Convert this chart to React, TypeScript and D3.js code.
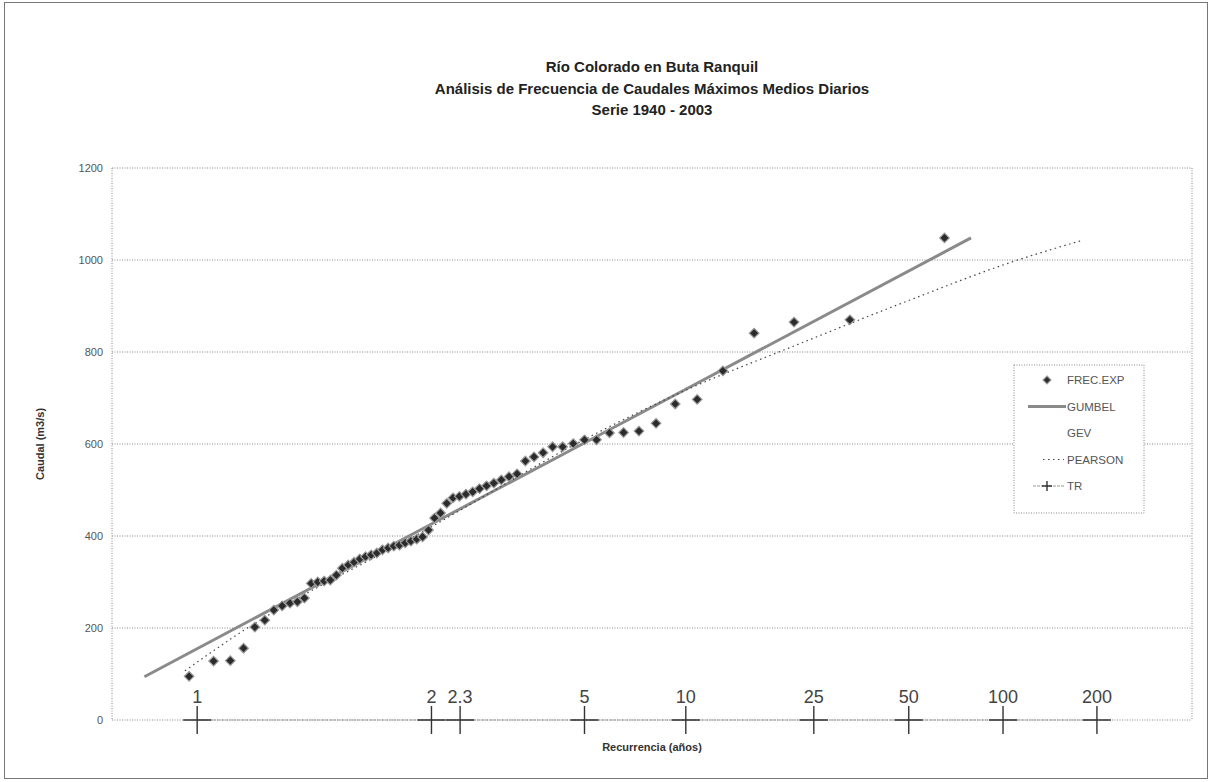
import * as d3 from 'd3'

// Frequency analysis chart: annual max daily flows vs Gumbel reduced variate

const titleLines = [
  'Río Colorado en Buta Ranquil',
  'Análisis de Frecuencia de Caudales Máximos Medios Diarios',
  'Serie 1940 - 2003',
]

const observed = [
  95, 128, 129, 156, 202, 217, 239, 248, 254, 257, 265,
  297, 300, 302, 304, 315, 330, 337, 343, 350, 355, 359, 363, 370, 374,
  378, 380, 385, 389, 393, 398, 413, 439, 450, 471, 483,
  486, 491, 496, 503, 509, 515, 522, 529, 535, 563, 572, 581, 594, 594,
  601, 609, 609, 624, 625, 628, 645, 687, 697, 759, 841, 865, 870, 1048,
]

// fitted curves: return period (years) -> flow
const gumbelT = [1.003, 2, 10, 79]
const gumbelQ = [94, 426, 719, 1048]

const pearsonT = [1.0137, 1.052, 2, 5, 10, 22, 50, 107, 180]
const pearsonQ = [107, 180, 420, 610, 717, 815, 912, 996, 1043]

// return period markers along the axis
const trT = [1.02, 2, 2.33, 5, 10, 25, 50, 100, 200]
const trLabels = ['1', '2', '2.3', '5', '10', '25', '50', '100', '200']

const legendItems = ['FREC.EXP', 'GUMBEL', 'GEV', 'PEARSON', 'TR']

const W = 1212
const H = 782
const FONT = '"Liberation Sans", Arial, sans-serif'

// Gumbel reduced variate
const rvFromP = (p: number) => -Math.log(-Math.log(p))
const rvFromT = (t: number) => rvFromP(1 - 1 / t)

function Diamond({ cx, cy, r = 4.8 }: { cx: number; cy: number; r?: number }) {
  return (
    <path
      d={`M${cx},${cy - r}L${cx + r},${cy}L${cx},${cy + r}L${cx - r},${cy}Z`}
      fill="#2b2b2b"
      stroke="#9a9a9a"
      strokeWidth={1.2}
    />
  )
}

function Plus({ cx, cy, s }: { cx: number; cy: number; s: number }) {
  return (
    <path d={`M${cx - s},${cy}H${cx + s}M${cx},${cy - s}V${cy + s}`} stroke="#333" strokeWidth={1.4} fill="none" />
  )
}

export default function App() {
  const x = d3.scaleLinear().domain([-2, 6]).range([112, 1192])
  const y = d3.scaleLinear().domain([0, 1200]).range([720, 168])
  const n = observed.length

  const curve = d3
    .line<[number, number]>()
    .x((d) => x(rvFromT(d[0])))
    .y((d) => y(d[1]))
    .curve(d3.curveMonotoneX)

  const gumbelPath = curve(gumbelT.map((t, i) => [t, gumbelQ[i]] as [number, number])) ?? ''
  const pearsonPath = curve(pearsonT.map((t, i) => [t, pearsonQ[i]] as [number, number])) ?? ''

  const [x0, x1] = x.range()
  const [yb, yt] = y.range()
  const cxPlot = (x0 + x1) / 2

  const trX = trT.map((t) => x(rvFromT(t)))

  // legend geometry
  const lgX = 1014
  const lgY = 365
  const lgW = 130
  const lgH = 148
  const rowY = (i: number) => lgY + 15 + i * 26.5

  return (
    <svg width={W} height={H} style={{ position: 'absolute', left: 0, top: 0, background: '#fff' }} fontFamily={FONT}>
      <rect x={4.5} y={2.5} width={1203} height={776} fill="#fff" stroke="#777" strokeWidth={1} />

      {titleLines.map((t, i) => (
        <text key={t} x={cxPlot} y={72 + i * 21.5} textAnchor="middle" fontSize={15} fontWeight="bold" fill="#222">
          {t}
        </text>
      ))}

      {/* gridlines */}
      {y.ticks(6).map((v) => (
        <g key={v}>
          <line x1={x0} x2={x1} y1={y(v)} y2={y(v)} stroke="#888" strokeWidth={1} strokeDasharray="1,1.5" />
          <text x={103} y={y(v) + 4} textAnchor="end" fontSize={11} fill="#555">
            {v}
          </text>
        </g>
      ))}
      <line x1={x0} x2={x0} y1={yt} y2={yb} stroke="#888" strokeDasharray="1,1.5" />
      <line x1={x1} x2={x1} y1={yt} y2={yb} stroke="#888" strokeDasharray="1,1.5" />

      <text
        transform={`translate(44,${(yt + yb) / 2}) rotate(-90)`}
        textAnchor="middle"
        fontSize={11}
        fontWeight="bold"
        fill="#333"
      >
        Caudal (m3/s)
      </text>
      <text x={cxPlot} y={751} textAnchor="middle" fontSize={11} fontWeight="bold" fill="#333">
        Recurrencia (años)
      </text>

      {/* TR series along the axis */}
      <line x1={trX[0]} x2={trX[trX.length - 1]} y1={y(0)} y2={y(0)} stroke="#999" strokeWidth={1} strokeDasharray="3,1" />
      {trX.map((px, i) => (
        <g key={trLabels[i]}>
          <Plus cx={px} cy={y(0)} s={14} />
          <text x={px} y={703} textAnchor="middle" fontSize={18} fill="#444">
            {trLabels[i]}
          </text>
        </g>
      ))}

      {/* fitted curves */}
      <path d={gumbelPath} fill="none" stroke="#8a8a8a" strokeWidth={3} />
      <path d={pearsonPath} fill="none" stroke="#444" strokeWidth={1.2} strokeDasharray="1.5,3.5" />

      {/* observed maxima, Weibull plotting positions */}
      {observed.map((q, i) => (
        <Diamond key={i} cx={x(rvFromP((i + 1) / (n + 1)))} cy={y(q)} />
      ))}

      {/* legend */}
      <rect x={lgX} y={lgY} width={lgW} height={lgH} fill="#fff" stroke="#888" strokeDasharray="1,1.5" />
      {legendItems.map((name, i) => {
        const ry = rowY(i)
        return (
          <g key={name}>
            {name === 'FREC.EXP' && <Diamond cx={1047} cy={ry} r={4} />}
            {name === 'GUMBEL' && <line x1={1028} x2={1066} y1={ry} y2={ry} stroke="#8a8a8a" strokeWidth={3} />}
            {name === 'PEARSON' && (
              <line x1={1043} x2={1064} y1={ry} y2={ry} stroke="#444" strokeWidth={1.2} strokeDasharray="1.5,3.5" />
            )}
            {name === 'TR' && (
              <g>
                <line x1={1033} x2={1064} y1={ry} y2={ry} stroke="#999" strokeDasharray="3,1" />
                <Plus cx={1047} cy={ry} s={5} />
              </g>
            )}
            <text x={1067} y={ry + 4} fontSize={11.5} fill="#555">
              {name}
            </text>
          </g>
        )
      })}
    </svg>
  )
}
